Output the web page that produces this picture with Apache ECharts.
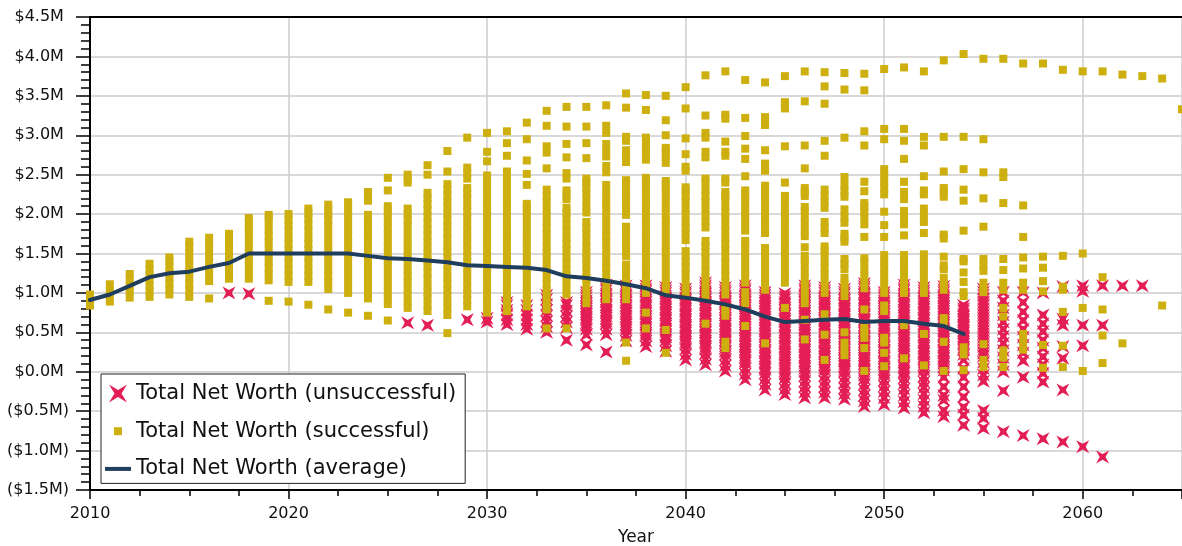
<!DOCTYPE html>
<html>
<head>
<meta charset="utf-8">
<title>Total Net Worth</title>
<script src="https://cdn.jsdelivr.net/npm/echarts@6/dist/echarts.min.js"></script>
<style>
  html, body { margin: 0; padding: 0; background: #fff; }
  #chart { width: 1182px; height: 546px; }
</style>
</head>
<body>
<div id="chart"></div>
<script>
// Simulated total net worth per year, in millions of dollars.
const years = [
  2010, 2011, 2012, 2013, 2014, 2015, 2016, 2017, 2018, 2019,
  2020, 2021, 2022, 2023, 2024, 2025, 2026, 2027, 2028, 2029,
  2030, 2031, 2032, 2033, 2034, 2035, 2036, 2037, 2038, 2039,
  2040, 2041, 2042, 2043, 2044, 2045, 2046, 2047, 2048, 2049,
  2050, 2051, 2052, 2053, 2054, 2055, 2056, 2057, 2058, 2059,
  2060, 2061, 2062, 2063, 2064, 2065
];

// Runs that end successfully, one list of values per year.
const successful = [
  [0.84, 0.91, 0.98],
  [0.89, 0.96, 1.03, 1.11],
  [0.94, 1.02, 1.09, 1.17, 1.24],
  [0.95, 1.02, 1.09, 1.16, 1.23, 1.30, 1.37],
  [0.98, 1.05, 1.12, 1.19, 1.26, 1.33, 1.40, 1.45],
  [0.95, 1.03, 1.11, 1.19, 1.27, 1.35, 1.43, 1.51, 1.58, 1.65],
  [0.93, 1.15, 1.23, 1.31, 1.39, 1.47, 1.55, 1.63, 1.70],
  [1.18, 1.26, 1.34, 1.42, 1.50, 1.58, 1.66, 1.75],
  [1.18, 1.26, 1.34, 1.42, 1.50, 1.58, 1.66, 1.74, 1.82, 1.89, 1.95],
  [0.90, 1.16, 1.24, 1.32, 1.40, 1.48, 1.56, 1.64, 1.72, 1.80, 1.88, 1.95, 1.99],
  [0.89, 1.14, 1.22, 1.30, 1.38, 1.46, 1.54, 1.62, 1.70, 1.78, 1.86, 1.93, 2.00],
  [0.85, 1.14, 1.22, 1.30, 1.38, 1.46, 1.54, 1.62, 1.70, 1.78, 1.86, 1.94, 2.01, 2.07],
  [0.79, 1.05, 1.13, 1.21, 1.29, 1.37, 1.45, 1.53, 1.61, 1.69, 1.77, 1.85, 1.93, 2.00, 2.06, 2.12],
  [0.75, 1.00, 1.08, 1.16, 1.24, 1.32, 1.40, 1.48, 1.56, 1.64, 1.72, 1.80, 1.88, 1.96, 2.04, 2.10, 2.15],
  [0.71, 0.93, 1.01, 1.09, 1.17, 1.25, 1.33, 1.41, 1.49, 1.57, 1.65, 1.73, 1.81, 1.89, 1.95, 1.99, 2.17, 2.23, 2.28],
  [0.65, 0.86, 0.94, 1.02, 1.10, 1.18, 1.26, 1.34, 1.42, 1.50, 1.58, 1.66, 1.74, 1.82, 1.90, 1.98, 2.04, 2.10, 2.30, 2.46],
  [0.81, 0.89, 0.97, 1.05, 1.13, 1.21, 1.29, 1.37, 1.45, 1.53, 1.61, 1.69, 1.77, 1.85, 1.93, 2.00, 2.07, 2.40, 2.45, 2.50],
  [0.77, 0.85, 0.93, 1.01, 1.09, 1.17, 1.25, 1.33, 1.41, 1.49, 1.57, 1.65, 1.73, 1.81, 1.89, 1.97, 2.05, 2.13, 2.20, 2.27, 2.50, 2.62],
  [0.49, 0.72, 0.80, 0.88, 0.96, 1.04, 1.12, 1.20, 1.28, 1.36, 1.44, 1.52, 1.60, 1.68, 1.76, 1.84, 1.92, 2.00, 2.08, 2.16, 2.24, 2.31, 2.38, 2.54, 2.80],
  [0.83, 0.91, 0.99, 1.07, 1.15, 1.23, 1.31, 1.39, 1.47, 1.55, 1.63, 1.71, 1.79, 1.87, 1.95, 2.03, 2.11, 2.19, 2.26, 2.33, 2.45, 2.52, 2.59, 2.97],
  [0.75, 0.83, 0.91, 0.99, 1.07, 1.15, 1.23, 1.31, 1.39, 1.47, 1.55, 1.63, 1.71, 1.79, 1.87, 1.95, 2.03, 2.11, 2.19, 2.27, 2.35, 2.42, 2.49, 2.67, 2.79, 3.03],
  [0.77, 0.85, 0.93, 1.01, 1.09, 1.17, 1.25, 1.33, 1.41, 1.49, 1.57, 1.65, 1.73, 1.81, 1.89, 1.97, 2.05, 2.13, 2.21, 2.29, 2.37, 2.45, 2.54, 2.74, 2.90, 3.05],
  [0.83, 0.91, 0.99, 1.07, 1.15, 1.23, 1.31, 1.39, 1.47, 1.55, 1.63, 1.71, 1.79, 1.87, 1.95, 2.03, 2.09, 2.13, 2.37, 2.51, 2.68, 2.95, 3.16],
  [0.55, 0.79, 0.87, 0.95, 1.03, 1.11, 1.19, 1.27, 1.35, 1.43, 1.51, 1.59, 1.67, 1.75, 1.83, 1.91, 1.99, 2.07, 2.15, 2.23, 2.31, 2.58, 2.78, 2.86, 3.12, 3.31],
  [0.55, 0.98, 1.06, 1.14, 1.22, 1.30, 1.38, 1.46, 1.54, 1.62, 1.70, 1.78, 1.86, 1.94, 2.02, 2.08, 2.19, 2.25, 2.30, 2.45, 2.52, 2.72, 2.89, 3.11, 3.36],
  [0.87, 0.95, 1.03, 1.11, 1.19, 1.27, 1.35, 1.43, 1.51, 1.59, 1.67, 1.75, 1.83, 1.90, 2.02, 2.10, 2.18, 2.26, 2.34, 2.40, 2.45, 2.71, 2.90, 3.11, 3.36],
  [0.92, 1.00, 1.08, 1.16, 1.24, 1.32, 1.40, 1.48, 1.56, 1.64, 1.72, 1.80, 1.88, 1.96, 2.04, 2.12, 2.20, 2.28, 2.37, 2.53, 2.61, 2.73, 2.81, 2.89, 3.03, 3.12, 3.38],
  [0.14, 0.37, 0.92, 1.00, 1.08, 1.16, 1.24, 1.30, 1.36, 1.47, 1.55, 1.63, 1.71, 1.79, 1.84, 1.99, 2.07, 2.15, 2.23, 2.31, 2.38, 2.43, 2.66, 2.74, 2.81, 2.93, 2.98, 3.35, 3.53],
  [0.55, 0.75, 1.00, 1.08, 1.16, 1.24, 1.32, 1.40, 1.48, 1.56, 1.64, 1.72, 1.80, 1.88, 1.96, 2.04, 2.12, 2.20, 2.28, 2.36, 2.42, 2.46, 2.69, 2.77, 2.85, 2.92, 2.97, 3.32, 3.51],
  [0.24, 0.53, 1.04, 1.12, 1.20, 1.28, 1.36, 1.44, 1.52, 1.60, 1.68, 1.76, 1.84, 1.92, 2.00, 2.08, 2.16, 2.24, 2.32, 2.38, 2.42, 2.65, 2.73, 2.80, 2.84, 3.00, 3.19, 3.50],
  [1.00, 1.08, 1.16, 1.24, 1.32, 1.40, 1.47, 1.53, 1.67, 1.75, 1.83, 1.91, 1.99, 2.07, 2.15, 2.23, 2.29, 2.34, 2.55, 2.60, 2.76, 2.96, 3.34, 3.61],
  [0.61, 0.96, 1.04, 1.12, 1.20, 1.28, 1.36, 1.44, 1.52, 1.60, 1.66, 1.83, 1.91, 1.99, 2.07, 2.15, 2.23, 2.31, 2.39, 2.45, 2.72, 2.79, 2.97, 3.03, 3.25, 3.76],
  [0.30, 0.38, 0.71, 0.77, 0.82, 0.98, 1.06, 1.14, 1.22, 1.30, 1.38, 1.46, 1.54, 1.62, 1.70, 1.78, 1.86, 1.94, 2.02, 2.10, 2.18, 2.24, 2.28, 2.40, 2.45, 2.74, 2.79, 2.92, 3.21, 3.26, 3.81],
  [0.58, 0.87, 0.94, 1.01, 1.13, 1.21, 1.29, 1.37, 1.45, 1.53, 1.61, 1.66, 1.79, 1.87, 1.95, 2.03, 2.11, 2.19, 2.26, 2.30, 2.48, 2.70, 2.83, 2.99, 3.22, 3.70],
  [0.36, 1.04, 1.12, 1.20, 1.28, 1.36, 1.44, 1.52, 1.57, 1.76, 1.84, 1.92, 2.00, 2.08, 2.16, 2.24, 2.31, 2.36, 2.55, 2.60, 2.64, 2.81, 3.13, 3.18, 3.23, 3.67],
  [0.81, 1.13, 1.21, 1.29, 1.37, 1.45, 1.53, 1.61, 1.69, 1.77, 1.85, 1.93, 2.01, 2.09, 2.17, 2.23, 2.40, 2.86, 3.34, 3.38, 3.42, 3.75],
  [0.41, 0.66, 0.87, 0.95, 1.03, 1.11, 1.19, 1.27, 1.35, 1.42, 1.47, 1.58, 1.72, 1.80, 1.88, 1.96, 2.04, 2.09, 2.23, 2.28, 2.33, 2.58, 2.87, 3.43, 3.81],
  [0.15, 0.47, 0.73, 1.00, 1.08, 1.16, 1.24, 1.32, 1.40, 1.48, 1.54, 1.59, 1.76, 1.83, 1.90, 2.08, 2.16, 2.24, 2.31, 2.74, 2.93, 3.40, 3.62, 3.80],
  [0.21, 0.29, 0.37, 0.50, 0.96, 1.04, 1.12, 1.19, 1.30, 1.37, 1.43, 1.65, 1.70, 1.75, 1.89, 1.97, 2.06, 2.22, 2.29, 2.37, 2.47, 2.97, 3.58, 3.79],
  [0.01, 0.30, 0.43, 0.50, 0.56, 0.79, 1.06, 1.14, 1.22, 1.30, 1.38, 1.44, 1.71, 1.87, 1.95, 2.03, 2.09, 2.14, 2.29, 2.41, 2.87, 3.05, 3.57, 3.78],
  [0.07, 0.24, 0.37, 0.43, 0.77, 0.84, 1.00, 1.08, 1.16, 1.24, 1.32, 1.40, 1.48, 1.71, 1.86, 2.03, 2.25, 2.33, 2.41, 2.49, 2.57, 2.95, 3.08, 3.84],
  [0.17, 0.59, 1.00, 1.08, 1.16, 1.24, 1.32, 1.40, 1.48, 1.73, 1.87, 1.95, 2.04, 2.19, 2.28, 2.41, 2.70, 2.93, 3.08, 3.86],
  [0.08, 0.48, 1.00, 1.08, 1.16, 1.24, 1.32, 1.40, 1.49, 1.76, 1.90, 1.98, 2.07, 2.25, 2.30, 2.48, 2.87, 2.98, 3.81],
  [0.01, 0.38, 0.62, 0.68, 1.04, 1.11, 1.19, 1.30, 1.35, 1.46, 1.69, 1.74, 2.22, 2.28, 2.33, 2.54, 2.98, 3.95],
  [0.02, 0.22, 0.31, 0.96, 1.01, 1.14, 1.26, 1.40, 1.43, 1.79, 2.17, 2.31, 2.57, 2.98, 4.03],
  [0.06, 0.15, 0.35, 1.01, 1.06, 1.13, 1.28, 1.35, 1.43, 1.84, 2.20, 2.53, 2.95, 3.97],
  [0.06, 0.18, 0.27, 0.70, 0.81, 1.04, 1.13, 1.29, 1.43, 2.14, 2.47, 2.53, 3.97],
  [0.28, 0.38, 0.48, 1.04, 1.13, 1.31, 1.45, 1.71, 2.11, 3.91],
  [0.05, 0.34, 1.02, 1.15, 1.32, 1.46, 3.91],
  [0.06, 0.33, 0.76, 1.04, 1.08, 1.47, 3.83],
  [0.01, 0.81, 1.50, 3.81],
  [0.11, 0.46, 0.79, 1.20, 3.81],
  [0.36, 3.77],
  [3.75],
  [0.84, 3.72],
  [3.33]
];

// Runs that end unsuccessfully, one list of values per year.
const unsuccessful = [
  [], [], [], [], [], [], [], [1.00], [0.99], [],
  [], [], [], [], [], [], [0.62], [0.59], [], [0.66],
  [0.63, 0.68],
  [0.60, 0.66, 0.72, 0.78, 0.84, 0.88],
  [0.54, 0.60, 0.66, 0.72, 0.78, 0.84],
  [0.50, 0.57, 0.64, 0.71, 0.78, 0.85, 0.92, 0.97],
  [0.40, 0.56, 0.63, 0.70, 0.77, 0.84, 0.88],
  [1.01, 0.97, 0.94, 0.90, 0.87, 0.83, 0.80, 0.76, 0.73, 0.69, 0.66, 0.62, 0.59, 0.54, 0.47, 0.34],
  [1.10, 1.06, 1.03, 0.99, 0.96, 0.92, 0.89, 0.85, 0.82, 0.78, 0.75, 0.71, 0.68, 0.64, 0.61, 0.54, 0.47, 0.25],
  [1.09, 1.05, 1.02, 0.98, 0.95, 0.91, 0.88, 0.84, 0.81, 0.77, 0.74, 0.70, 0.67, 0.63, 0.60, 0.56, 0.53, 0.46, 0.39],
  [1.09, 1.05, 1.02, 0.98, 0.95, 0.91, 0.88, 0.84, 0.81, 0.77, 0.74, 0.70, 0.67, 0.63, 0.60, 0.56, 0.53, 0.49, 0.46, 0.39, 0.32],
  [1.07, 1.03, 1.00, 0.96, 0.93, 0.89, 0.86, 0.82, 0.79, 0.75, 0.72, 0.68, 0.65, 0.61, 0.58, 0.54, 0.51, 0.47, 0.44, 0.40, 0.33, 0.26],
  [1.05, 1.01, 0.98, 0.94, 0.91, 0.87, 0.84, 0.80, 0.77, 0.73, 0.70, 0.66, 0.63, 0.59, 0.56, 0.52, 0.49, 0.45, 0.42, 0.38, 0.35, 0.29, 0.22, 0.15],
  [1.13, 1.09, 1.06, 1.02, 0.99, 0.95, 0.92, 0.88, 0.85, 0.81, 0.78, 0.74, 0.71, 0.67, 0.64, 0.60, 0.57, 0.53, 0.50, 0.46, 0.43, 0.39, 0.36, 0.32, 0.29, 0.23, 0.16, 0.09],
  [1.07, 1.03, 1.00, 0.96, 0.93, 0.89, 0.86, 0.82, 0.79, 0.75, 0.72, 0.68, 0.65, 0.61, 0.58, 0.54, 0.51, 0.47, 0.44, 0.40, 0.37, 0.33, 0.30, 0.26, 0.22, 0.15, 0.08, 0.01],
  [1.09, 1.05, 1.02, 0.98, 0.95, 0.91, 0.88, 0.84, 0.81, 0.77, 0.74, 0.70, 0.67, 0.63, 0.60, 0.56, 0.53, 0.49, 0.46, 0.42, 0.39, 0.35, 0.32, 0.28, 0.25, 0.21, 0.18, 0.14, 0.11, 0.04, -0.03, -0.10],
  [1.01, 0.97, 0.94, 0.90, 0.87, 0.83, 0.80, 0.76, 0.73, 0.69, 0.66, 0.62, 0.59, 0.55, 0.52, 0.48, 0.45, 0.41, 0.38, 0.34, 0.31, 0.27, 0.24, 0.20, 0.17, 0.13, 0.10, 0.06, 0.03, -0.02, -0.09, -0.16, -0.23],
  [0.99, 0.95, 0.92, 0.88, 0.85, 0.81, 0.78, 0.74, 0.71, 0.67, 0.64, 0.60, 0.57, 0.53, 0.50, 0.46, 0.43, 0.39, 0.36, 0.32, 0.29, 0.25, 0.22, 0.18, 0.15, 0.11, 0.08, 0.04, 0.01, -0.03, -0.08, -0.15, -0.22, -0.29],
  [1.09, 1.05, 1.02, 0.98, 0.95, 0.91, 0.88, 0.84, 0.81, 0.77, 0.74, 0.70, 0.67, 0.63, 0.60, 0.56, 0.53, 0.49, 0.46, 0.42, 0.39, 0.35, 0.32, 0.28, 0.25, 0.21, 0.18, 0.14, 0.11, 0.07, 0.04, 0.00, -0.05, -0.12, -0.19, -0.26, -0.33],
  [1.07, 1.03, 1.00, 0.96, 0.93, 0.89, 0.86, 0.82, 0.79, 0.75, 0.72, 0.68, 0.65, 0.61, 0.58, 0.54, 0.51, 0.47, 0.44, 0.40, 0.37, 0.33, 0.30, 0.26, 0.23, 0.19, 0.16, 0.12, 0.09, 0.05, 0.02, -0.05, -0.12, -0.19, -0.26, -0.33],
  [1.05, 1.01, 0.98, 0.94, 0.91, 0.87, 0.84, 0.80, 0.77, 0.73, 0.70, 0.66, 0.63, 0.59, 0.56, 0.52, 0.49, 0.45, 0.42, 0.38, 0.35, 0.31, 0.28, 0.24, 0.21, 0.17, 0.14, 0.10, 0.07, 0.03, 0.00, -0.07, -0.14, -0.21, -0.28, -0.35],
  [1.12, 1.08, 1.05, 1.01, 0.98, 0.94, 0.91, 0.87, 0.84, 0.80, 0.77, 0.73, 0.70, 0.66, 0.63, 0.59, 0.56, 0.52, 0.49, 0.45, 0.42, 0.38, 0.35, 0.31, 0.28, 0.24, 0.21, 0.17, 0.14, 0.10, 0.07, 0.03, 0.00, -0.04, -0.09, -0.16, -0.23, -0.30, -0.37, -0.44],
  [1.01, 0.97, 0.94, 0.90, 0.87, 0.83, 0.80, 0.76, 0.73, 0.69, 0.66, 0.62, 0.59, 0.55, 0.52, 0.48, 0.45, 0.41, 0.38, 0.34, 0.31, 0.27, 0.24, 0.20, 0.17, 0.13, 0.10, 0.06, 0.03, -0.01, -0.04, -0.11, -0.18, -0.25, -0.33, -0.42],
  [1.10, 1.06, 1.03, 0.99, 0.96, 0.92, 0.89, 0.85, 0.82, 0.78, 0.75, 0.71, 0.68, 0.64, 0.61, 0.57, 0.54, 0.50, 0.47, 0.43, 0.40, 0.36, 0.33, 0.29, 0.26, 0.22, 0.19, 0.15, 0.12, 0.08, 0.05, 0.01, -0.02, -0.08, -0.15, -0.22, -0.30, -0.38, -0.46],
  [1.07, 1.03, 1.00, 0.96, 0.93, 0.89, 0.86, 0.82, 0.79, 0.75, 0.72, 0.68, 0.65, 0.61, 0.58, 0.54, 0.51, 0.47, 0.44, 0.40, 0.37, 0.33, 0.30, 0.26, 0.23, 0.19, 0.16, 0.12, 0.09, 0.05, 0.02, -0.06, -0.13, -0.20, -0.28, -0.36, -0.44, -0.52],
  [1.08, 1.04, 1.01, 0.97, 0.94, 0.90, 0.87, 0.83, 0.80, 0.76, 0.73, 0.69, 0.66, 0.62, 0.59, 0.55, 0.52, 0.48, 0.45, 0.41, 0.38, 0.34, 0.31, 0.27, 0.24, 0.20, 0.17, 0.13, 0.10, 0.06, 0.02, -0.07, -0.19, -0.30, -0.36, -0.49, -0.57],
  [0.84, 0.80, 0.77, 0.73, 0.70, 0.66, 0.63, 0.59, 0.56, 0.52, 0.49, 0.45, 0.42, 0.38, 0.35, 0.31, 0.28, 0.22, 0.15, 0.04, -0.07, -0.19, -0.32, -0.45, -0.55, -0.68],
  [1.05, 1.01, 0.97, 0.92, 0.88, 0.84, 0.80, 0.76, 0.72, 0.68, 0.64, 0.60, 0.56, 0.52, 0.48, 0.44, 0.40, 0.36, 0.32, 0.28, 0.24, 0.20, 0.12, 0.04, -0.04, -0.12, -0.49, -0.59, -0.72],
  [-0.76, -0.24, 0.00, 0.09, 0.18, 0.27, 0.36, 0.45, 0.54, 0.63, 0.72, 0.81, 0.90, 1.01],
  [-0.81, -0.07, 0.14, 0.24, 0.34, 0.44, 0.54, 0.65, 0.76, 0.88, 1.01],
  [-0.85, -0.13, -0.02, 0.09, 0.19, 0.30, 0.40, 0.51, 0.61, 0.72, 1.00],
  [-0.89, -0.23, 0.17, 0.32, 0.59, 0.67, 1.08],
  [-0.95, 0.33, 0.59, 1.02, 1.09],
  [-1.08, 0.59, 1.09],
  [1.09],
  [1.09],
  [],
  []
];

// Average over all runs, 2010 through 2054.
const averageYears = years.slice(0, 45);
const average = [
  0.91, 0.98, 1.09, 1.20, 1.25, 1.27, 1.33, 1.38, 1.50, 1.50,
  1.50, 1.50, 1.50, 1.50, 1.47, 1.44, 1.43, 1.41, 1.39, 1.35,
  1.34, 1.33, 1.32, 1.29, 1.21, 1.19, 1.155, 1.11, 1.06, 0.97,
  0.94, 0.90, 0.855, 0.79, 0.70, 0.63, 0.645, 0.66, 0.67, 0.63,
  0.645, 0.645, 0.61, 0.58, 0.48
];

const yTicks = { min: -1.5, max: 4.5, step: 0.5 };
const xTicks = { min: 2010, max: 2065, step: 10 };

const NAME_FAIL = 'Total Net Worth (unsuccessful)';
const NAME_OK = 'Total Net Worth (successful)';
const NAME_AVG = 'Total Net Worth (average)';

const RED = '#e31e55';
const GOLD = '#cdb010';
const NAVY = '#1f3d5c';
const FONT = '"DejaVu Sans", Verdana, sans-serif';

// Four-pointed star used for failed runs.
const STAR = 'path://M0,0L10,5.5L20,0L14.5,10L20,20L10,14.5L0,20L5.5,10Z';
// Legend icons, padded inside a fixed box so they keep their plot size.
const STAR_ICON = 'path://M0,0M20,20M1,1L10,6.5L19,1L13.5,10L19,19L10,13.5L1,19L6.5,10Z';
const SQUARE_ICON = 'path://M0,0M20,20M6,6L14,6L14,14L6,14Z';
const LINE_ICON = 'path://M0,0M26,20M0,8L26,8L26,12L0,12Z';

const toPoints = (lists) => years.flatMap((yr, i) => lists[i].map(v => [yr, v]));
// Accounting style: negatives in parentheses, positives padded so digits line up.
const moneyLabel = (v) => {
  const r = Math.round(v * 10) / 10;
  if (r < 0) return '($' + (-r).toFixed(1) + 'M)';
  return '$' + Math.abs(r).toFixed(1) + 'M\u2008';
};

const chart = echarts.init(document.getElementById('chart'), null, { renderer: 'canvas' });

chart.setOption({
  animation: false,
  backgroundColor: '#ffffff',
  textStyle: { fontFamily: FONT },
  grid: { left: 90, right: 0, top: 17, bottom: 56, containLabel: false, outerBoundsMode: 'none' },
  legend: {
    orient: 'vertical',
    left: 101,
    top: 374,
    backgroundColor: '#ffffff',
    borderColor: '#222222',
    borderWidth: 1,
    borderRadius: 0,
    padding: [9, 9, 4, 4],
    itemWidth: 26,
    itemHeight: 20,
    itemGap: 16.7,
    textStyle: { fontSize: 21, color: '#111111', fontFamily: FONT, lineHeight: 20 },
    data: [
      { name: NAME_FAIL, icon: STAR_ICON },
      { name: NAME_OK, icon: SQUARE_ICON },
      { name: NAME_AVG, icon: LINE_ICON }
    ]
  },
  xAxis: [
    {
      type: 'value',
      min: xTicks.min,
      max: xTicks.max,
      interval: xTicks.step,
      name: 'Year',
      nameLocation: 'middle',
      nameGap: 39,
      nameTextStyle: { fontSize: 17, color: '#111111', fontFamily: FONT },
      axisLine: { onZero: false, lineStyle: { color: '#000000', width: 2 } },
      axisTick: { show: true, length: 9, lineStyle: { color: '#000000', width: 1.5 } },
      minorTick: { show: true, splitNumber: 4, length: 6, lineStyle: { color: '#000000', width: 1.5 } },
      axisLabel: {
        fontSize: 16, color: '#111111', margin: 16, showMaxLabel: false, fontFamily: FONT,
        formatter: (v) => String(v)
      },
      splitLine: { show: true, lineStyle: { color: '#cccccc', width: 1.5 } }
    },
    {
      type: 'value',
      position: 'top',
      min: xTicks.min,
      max: xTicks.max,
      interval: xTicks.step,
      axisLine: { show: true, onZero: false, lineStyle: { color: '#000000', width: 2 } },
      axisTick: { show: false },
      axisLabel: { show: false },
      splitLine: { show: false }
    }
  ],
  yAxis: {
    type: 'value',
    min: yTicks.min,
    max: yTicks.max,
    interval: yTicks.step,
    axisLine: { show: true, onZero: false, lineStyle: { color: '#000000', width: 2 } },
    axisTick: { show: true, length: 14, lineStyle: { color: '#000000', width: 1.5 } },
    minorTick: { show: true, splitNumber: 5, length: 9, lineStyle: { color: '#000000', width: 1.5 } },
    axisLabel: { fontSize: 16, color: '#111111', margin: 21, formatter: moneyLabel, fontFamily: FONT },
    splitLine: { show: true, lineStyle: { color: '#cccccc', width: 1.5 } }
  },
  series: [
    {
      name: NAME_FAIL,
      type: 'scatter',
      symbol: STAR,
      symbolSize: 13,
      itemStyle: { color: RED, opacity: 1 },
      emphasis: { disabled: true },
      data: toPoints(unsuccessful),
      z: 2
    },
    {
      name: NAME_OK,
      type: 'scatter',
      symbol: 'rect',
      symbolSize: 8,
      itemStyle: { color: GOLD, opacity: 1 },
      emphasis: { disabled: true },
      data: toPoints(successful),
      z: 3
    },
    {
      name: NAME_AVG,
      type: 'line',
      symbol: 'none',
      lineStyle: { color: NAVY, width: 4, join: 'round', cap: 'round' },
      itemStyle: { color: NAVY },
      emphasis: { disabled: true },
      data: averageYears.map((yr, i) => [yr, average[i]]),
      z: 4
    }
  ]
});
</script>
</body>
</html>
